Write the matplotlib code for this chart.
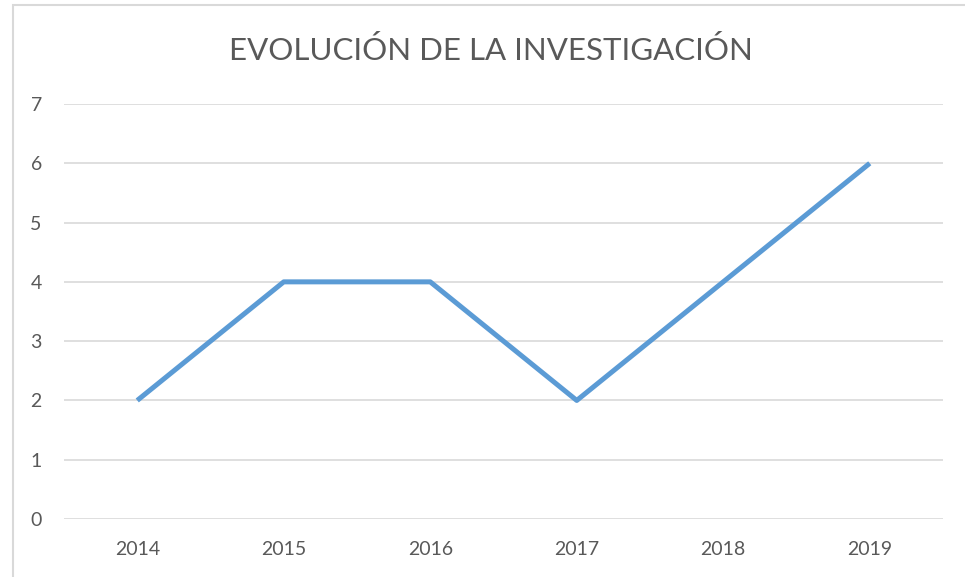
import matplotlib.pyplot as plt
from matplotlib.patches import Rectangle

years = ["2014", "2015", "2016", "2017", "2018", "2019"]
values = [2, 4, 4, 2, 4, 6]
title = "EVOLUCIÓN DE LA INVESTIGACIÓN"

W, H = 965, 577
plt.rcParams["font.family"] = ["Lato", "DejaVu Sans"]
fig = plt.figure(figsize=(W / 100, H / 100), dpi=100)

ax = fig.add_axes([64 / W, 1 - 519 / H, (943 - 64) / W, (519 - 104) / H])
x = [i + 0.5 for i in range(len(years))]
ax.plot(x, values, color="#5b9bd5", linewidth=3.6, solid_capstyle="butt", zorder=3)

ax.set_xlim(0, len(years))
ax.set_ylim(0, 7)
ax.set_xticks(x)
ax.set_xticklabels(years)
ax.set_yticks(range(0, 8))
ax.tick_params(length=0, labelsize=14, labelcolor="#595959")
ax.tick_params(axis="x", pad=16)
ax.tick_params(axis="y", pad=16)
ax.grid(True, axis="y", color="#d9d9d9", linewidth=1.2)
ax.set_axisbelow(True)
for s in ax.spines.values():
    s.set_visible(False)

fig.text(491 / W, 1 - 51 / H, title, ha="center", va="center",
         fontsize=22.5, color="#595959")

fig.add_artist(Rectangle((13 / W, -0.1), 1.2, 1 - 5 / H + 0.1,
                         transform=fig.transFigure, fill=False,
                         edgecolor="#d9d9d9", linewidth=1.5))

fig.savefig("out.png", dpi=100)
